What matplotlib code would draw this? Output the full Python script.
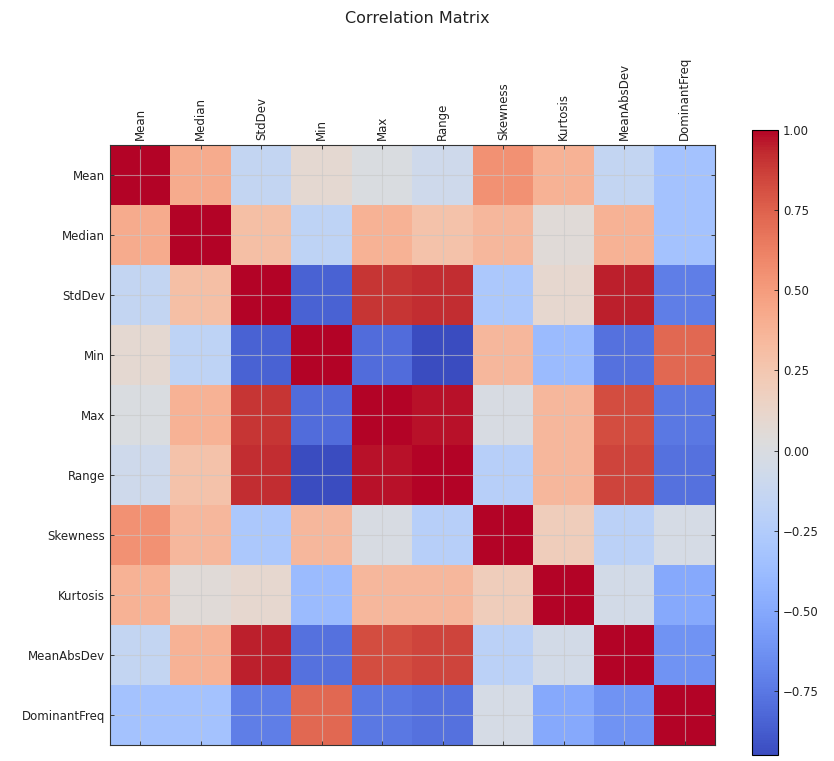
import numpy as np
import matplotlib
matplotlib.use("Agg")
import matplotlib.pyplot as plt

labels = ["Mean", "Median", "StdDev", "Min", "Max", "Range",
          "Skewness", "Kurtosis", "MeanAbsDev", "DominantFreq"]

# correlation rows
mean_row   = [1.00, 0.42, -0.15, 0.08, 0.00, -0.08, 0.55, 0.38, -0.15, -0.33]
median_row = [0.42, 1.00, 0.30, -0.18, 0.38, 0.28, 0.35, 0.05, 0.38, -0.33]
std_row    = [-0.15, 0.30, 1.00, -0.85, 0.90, 0.92, -0.28, 0.10, 0.95, -0.72]
min_row    = [0.08, -0.18, -0.85, 1.00, -0.80, -0.95, 0.35, -0.38, -0.78, 0.72]
max_row    = [0.00, 0.38, 0.90, -0.80, 1.00, 0.97, -0.02, 0.35, 0.82, -0.75]
range_row  = [-0.08, 0.28, 0.92, -0.95, 0.97, 1.00, -0.22, 0.35, 0.85, -0.78]
skew_row   = [0.55, 0.35, -0.28, 0.35, -0.02, -0.22, 1.00, 0.20, -0.20, -0.03]
kurt_row   = [0.38, 0.05, 0.10, -0.38, 0.35, 0.35, 0.20, 1.00, -0.05, -0.50]
mad_row    = [-0.15, 0.38, 0.95, -0.78, 0.82, 0.85, -0.20, -0.05, 1.00, -0.62]
freq_row   = [-0.33, -0.33, -0.72, 0.72, -0.75, -0.78, -0.03, -0.50, -0.62, 1.00]

corr = np.array([mean_row, median_row, std_row, min_row, max_row,
                 range_row, skew_row, kurt_row, mad_row, freq_row])

plt.rcParams["font.family"] = "DejaVu Sans"
plt.rcParams["text.color"] = "#222222"
plt.rcParams["xtick.color"] = "#222222"
plt.rcParams["ytick.color"] = "#222222"

fig = plt.figure(figsize=(8.34, 7.61), dpi=100)
ax = fig.add_axes([110 / 834, 16 / 761, 605 / 834, 600 / 761])
cax = fig.add_axes([752 / 834, 6 / 761, 26 / 834, 625 / 761])

im = ax.imshow(corr, cmap="coolwarm", aspect="auto", interpolation="nearest")

ax.set_xticks(range(len(labels)))
ax.set_yticks(range(len(labels)))
ax.set_xticklabels(labels, rotation=90, fontsize=8.5)
ax.set_yticklabels(labels, fontsize=8.5)
ax.tick_params(axis="x", top=True, bottom=True, labeltop=True, labelbottom=False,
               direction="in", length=3, width=0.6)
ax.tick_params(axis="y", left=True, right=True, direction="in", length=3, width=0.6)
ax.grid(True, color="#c8c8c8", alpha=0.6, linewidth=0.8)
for s in ax.spines.values():
    s.set_color("#333333")
    s.set_linewidth(0.8)

cb = fig.colorbar(im, cax=cax)
cb.set_ticks([-0.75, -0.5, -0.25, 0.0, 0.25, 0.5, 0.75, 1.0])
cb.ax.tick_params(labelsize=8.5, direction="in", length=3, width=0.6)
cb.outline.set_linewidth(0.8)

fig.suptitle("Correlation Matrix", fontsize=11.5, y=0.985)

fig.savefig("out.png", dpi=100)
